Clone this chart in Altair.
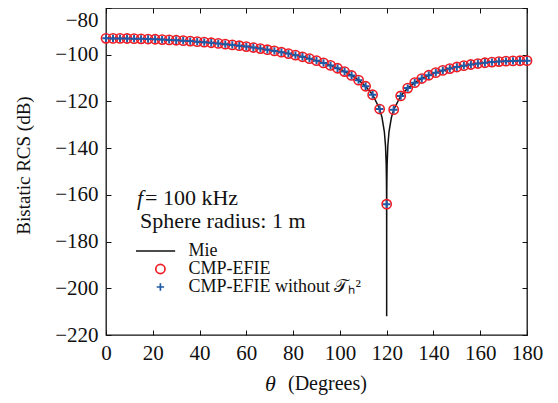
import altair as alt
import pandas as pd

# ---------------- data ----------------
theta_num = list(range(0, 181, 3))
rcs_cmp_efie = [-93.00, -93.01, -93.03, -93.07, -93.13, -93.20, -93.29, -93.39, -93.52, -93.66,
                -93.81, -93.99, -94.18, -94.40, -94.63, -94.89, -95.16, -95.47, -95.79, -96.14,
                -96.52, -96.93, -97.37, -97.85, -98.36, -98.92, -99.52, -100.18, -100.89, -101.68,
                -102.54, -103.50, -104.58, -105.80, -107.21, -108.88, -110.90, -113.50, -117.13, -123.26,
                -164.0, -123.53, -117.65, -114.29, -111.96, -110.20, -108.80, -107.67, -106.72, -105.93,
                -105.25, -104.68, -104.19, -103.78, -103.44, -103.16, -102.93, -102.76, -102.64, -102.57,
                -102.54]
rcs_without_th2 = [-93.00, -93.01, -93.03, -93.07, -93.13, -93.20, -93.29, -93.39, -93.52, -93.66,
                   -93.81, -93.99, -94.18, -94.40, -94.63, -94.89, -95.16, -95.47, -95.79, -96.14,
                   -96.52, -96.93, -97.37, -97.85, -98.36, -98.92, -99.52, -100.18, -100.89, -101.68,
                   -102.54, -103.50, -104.58, -105.80, -107.21, -108.88, -110.90, -113.50, -117.13, -123.26,
                   -164.0, -123.53, -117.65, -114.29, -111.96, -110.20, -108.80, -107.67, -106.72, -105.93,
                   -105.25, -104.68, -104.19, -103.78, -103.44, -103.16, -102.93, -102.76, -102.64, -102.57,
                   -102.54]

theta_mie = [0, 3, 6, 9, 12, 15, 18, 21, 24, 27, 30, 33, 36, 39, 42, 45, 48, 51, 54, 57,
             60, 63, 66, 69, 72, 75, 78, 81, 84, 87, 90, 93, 96, 99, 102, 105, 108, 111, 114, 117,
             118, 119, 119.5, 119.8, 119.9, 119.95, 119.99, 119.999, 120, 120.001, 120.01, 120.05,
             120.1, 120.2, 120.5, 121, 122,
             123, 126, 129, 132, 135, 138, 141, 144, 147, 150, 153, 156, 159, 162, 165, 168, 171,
             174, 177, 180]
rcs_mie = [-93.00, -93.01, -93.03, -93.07, -93.13, -93.20, -93.29, -93.39, -93.52, -93.66,
           -93.81, -93.99, -94.18, -94.40, -94.63, -94.89, -95.16, -95.47, -95.79, -96.14,
           -96.52, -96.93, -97.37, -97.85, -98.36, -98.92, -99.52, -100.18, -100.89, -101.68,
           -102.54, -103.50, -104.58, -105.80, -107.21, -108.88, -110.90, -113.50, -117.13, -123.26,
           -126.83, -132.89, -138.93, -146.9, -152.9, -158.9, -172.9, -192.9, -212.0, -192.9,
           -172.9, -159.0, -153.0, -147.0, -139.0, -133.0, -127.0,
           -123.53, -117.65, -114.29, -111.96, -110.20, -108.80, -107.67, -106.72, -105.93,
           -105.25, -104.68, -104.19, -103.78, -103.44, -103.16, -102.93, -102.76, -102.64, -102.57,
           -102.54]

series_names = ["Mie", "CMP-EFIE", "CMP-EFIE without \U0001D4AF\u2095\u00B2"]
x_ticks = list(range(0, 181, 20))
y_ticks = list(range(-220, -79, 20))

# ---------------- tables ----------------
df_mie = pd.DataFrame({"theta": theta_mie, "rcs": rcs_mie, "series": series_names[0]})
df_cmp = pd.DataFrame({"theta": theta_num, "rcs": rcs_cmp_efie, "series": series_names[1]})
df_no = pd.DataFrame({"theta": theta_num, "rcs": rcs_without_th2, "series": series_names[2]})

SERIF = "Liberation Serif"
RED = "#ee1c25"
BLUE = "#1f5aa6"

xscale = alt.Scale(domain=[0, 180], nice=False)
yscale = alt.Scale(domain=[-220, -80], nice=False)
color_scale = alt.Scale(domain=series_names, range=["#111111", RED, BLUE])
shape_scale = alt.Scale(domain=series_names,
                        range=["M-5.3,0L3.2,0", "circle", "M-0.8,0L0.8,0M0,-0.8L0,0.8"])

legend = alt.Legend(orient="none", legendX=45.4, legendY=234, title=None,
                    labelFont=SERIF, labelFontSize=18, labelColor="#111", labelLimit=0,
                    symbolSize=85, symbolStrokeWidth=1.7, labelOffset=19,
                    rowPadding=0, padding=0, symbolFillColor="transparent")

axis_common = dict(grid=False, domain=False, tickSize=5, offset=-5, tickColor="#111",
                   labelFont=SERIF, labelFontSize=21, labelColor="#111", labelFlush=False)

x_bottom = alt.Axis(values=x_ticks, title=None, labelPadding=7, **axis_common)
y_left = alt.Axis(values=y_ticks, title="Bistatic RCS (dB)", labelPadding=8,
                  labelOffset={"condition": {"test": "datum.value == -80", "value": 12}, "value": 0},
                  titleFont=SERIF, titleFontSize=19, titleFontWeight="normal",
                  titleColor="#111", titlePadding=21, titleY=157, **axis_common)
x_top = alt.Axis(values=x_ticks, title=None, labels=False, orient="top", **axis_common)
y_right = alt.Axis(values=y_ticks, title=None, labels=False, orient="right", **axis_common)

line = alt.Chart(df_mie).mark_line(strokeWidth=1.5, clip=True).encode(
    x=alt.X("theta:Q", scale=xscale, axis=x_bottom),
    y=alt.Y("rcs:Q", scale=yscale, axis=y_left),
    color=alt.Color("series:N", scale=color_scale, legend=legend),
)

circles = alt.Chart(df_cmp).mark_point(filled=False, size=85, strokeWidth=1.6, opacity=1).encode(
    x=alt.X("theta:Q", scale=xscale, axis=x_top),
    y=alt.Y("rcs:Q", scale=yscale, axis=y_right),
    color=alt.Color("series:N", scale=color_scale, legend=legend),
    shape=alt.Shape("series:N", scale=shape_scale, legend=legend),
)

pluses = alt.Chart(df_no).mark_point(filled=False, size=85, strokeWidth=2, opacity=1).encode(
    x=alt.X("theta:Q", scale=xscale, axis=None),
    y=alt.Y("rcs:Q", scale=yscale, axis=None),
    color=alt.Color("series:N", scale=color_scale, legend=legend),
    shape=alt.Shape("series:N", scale=shape_scale, legend=legend),
)

def label(txt, x, y, size, style="normal", align="left"):
    return alt.Chart(pd.DataFrame({"t": [txt]})).mark_text(
        font=SERIF, fontSize=size, fontStyle=style, align=align,
        baseline="alphabetic", color="#111"
    ).encode(x=alt.value(x), y=alt.value(y), text="t:N")

# positions relative to the plot area (top-left at page x=106, y=8)
texts = [
    label("f", 31, 197, 22, "italic"),
    label("= 100 kHz", 39, 197, 22),
    label("Sphere radius: 1 m", 34, 220, 22),
    label("\u03b8", 159, 383, 22, "italic"),
    label("(Degrees)", 182, 382, 20),
]

chart = alt.layer(line, circles, pluses, *texts).resolve_axis(
    x="independent", y="independent"
).properties(
    width=421, height=327,
    autosize=alt.AutoSizeParams(type="none"),
    padding={"left": 98, "top": 0, "right": 20, "bottom": 60},
).configure_view(stroke="#111", strokeWidth=1.3
).configure_axis(labelFont=SERIF, labelFontSize=21, titleFont=SERIF)

chart.save("out.html", embed_options={"renderer": "svg", "actions": False})
